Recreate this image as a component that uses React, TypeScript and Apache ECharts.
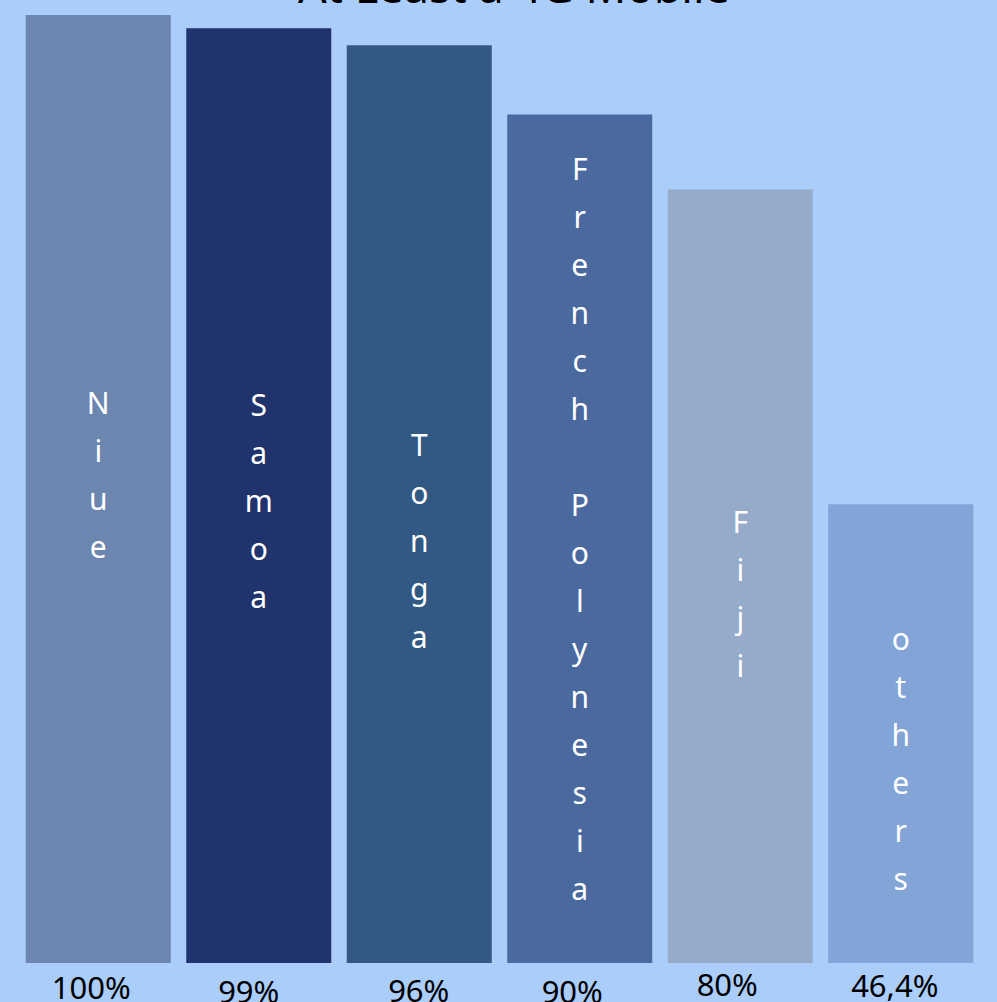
import React, { useEffect, useRef } from "react";
import * as echarts from "echarts";

const categories = ["Niue", "Samoa", "Tonga", "French Polynesia", "Fiji", "others"];
const barValues = [100, 98.6, 96.8, 89.5, 81.6, 48.4];
const valueLabels = ["100%", "99%", "96%", "90%", "80%", "46,4%"];
const barColors = ["#6b87af", "#21336c", "#325983", "#4a6a9f", "#96abca", "#82a4d7"];
const titleText = "At Least a 4G Mobile";

// styling: per-bar label nudges
const nameLabelDy = [-15, 5, 36, -10, 17, 25];
const valueLabelPad = [
  [3, 14, 0, 0],
  [7, 20, 0, 0],
  [6, 1, 0, 0],
  [7, 15, 0, 0],
  [0, 26, 0, 0],
  [1, 12, 0, 0],
];

export default function App() {
  const ref = useRef<HTMLDivElement>(null);
  useEffect(() => {
    if (!ref.current) return;
    const chart = echarts.init(ref.current, null, { renderer: "svg" });
    const rich: Record<string, any> = {};
    valueLabelPad.forEach((p, i) => {
      rich["s" + i] = {
        fontSize: 31,
        fontFamily: "Noto Sans",
        color: "#000",
        padding: p,
      };
    });
    chart.setOption({
      animation: false,
      backgroundColor: "#abcdfa",
      graphic: [
        {
          type: "text",
          x: 514,
          y: -15,
          z: 100,
          style: {
            text: titleText,
            fill: "#000",
            fontSize: 45,
            fontFamily: "Noto Sans",
            align: "center",
            verticalAlign: "middle",
          },
        },
      ],
      grid: { left: 18, right: 16, top: 15, bottom: 39, outerBoundsMode: "none", containLabel: false },
      xAxis: {
        type: "category",
        data: categories,
        axisLine: { show: false },
        axisTick: { show: false },
        axisLabel: {
          interval: 0,
          margin: 5,
          verticalAlign: "top",
          formatter: (_v: string, i: number) => `{s${i}|${valueLabels[i]}}`,
          rich,
        },
      },
      yAxis: {
        type: "value",
        min: 0,
        max: 100,
        show: false,
        splitLine: { show: false },
      },
      series: [
        {
          type: "bar",
          barWidth: 145,
          data: barValues.map((v, i) => ({
            value: v,
            itemStyle: { color: barColors[i] },
            label: { offset: [0, nameLabelDy[i]] },
          })),
          label: {
            show: true,
            position: "inside",
            color: "#fff",
            fontSize: 30,
            fontFamily: "Noto Sans",
            lineHeight: 48,
            formatter: (p: any) => categories[p.dataIndex].split("").join("\n"),
          },
        },
      ],
    });
    return () => chart.dispose();
  }, []);
  return (
    <div
      ref={ref}
      style={{ position: "fixed", left: 0, top: 0, width: 997, height: 1002 }}
    />
  );
}
